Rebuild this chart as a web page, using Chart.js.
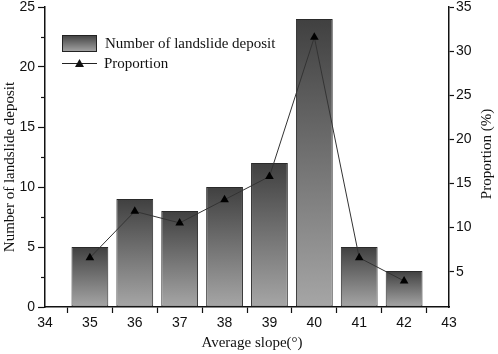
<!DOCTYPE html>
<html>
<head>
<meta charset="utf-8">
<script src="https://cdn.jsdelivr.net/npm/chart.js@4.4.0/dist/chart.umd.min.js"></script>
<style>
  body { margin: 0; background: #fff; }
  #wrap { width: 498px; height: 354px; }
</style>
</head>
<body>
<div id="wrap"><canvas id="myChart" width="498" height="354"></canvas></div>
<script>
// data
const slopes = [35, 36, 37, 38, 39, 40, 41, 42];
const deposits = [5, 9, 8, 10, 12, 24, 5, 3];
const proportion = [6.58, 11.84, 10.53, 13.16, 15.79, 31.58, 6.58, 3.95];
const xTicks = [34, 35, 36, 37, 38, 39, 40, 41, 42, 43];
const leftTicks = [0, 5, 10, 15, 20, 25];
const rightTicks = [5, 10, 15, 20, 25, 30, 35];

const serif = '"Liberation Serif", serif';
const sans = 'Liberation Sans';

function barGradient(ctx) {
  const chart = ctx.chart;
  if (!chart.chartArea || ctx.type !== 'data') return '#777';
  const y = chart.scales.y;
  const top = y.getPixelForValue(ctx.raw.y);
  const bot = y.getPixelForValue(0);
  const g = chart.ctx.createLinearGradient(0, top, 0, bot);
  g.addColorStop(0, '#404040');
  g.addColorStop(1, '#a6a6a6');
  return g;
}

// minor ticks, axis titles and legend
const extras = {
  id: 'extras',
  afterDraw(chart) {
    const c = chart.ctx;
    const area = chart.chartArea;
    const y = chart.scales.y;
    c.save();
    c.strokeStyle = '#111';
    c.lineWidth = 1.2;
    // minor ticks on left axis
    for (let v = 2.5; v < 25; v += 5) {
      const py = Math.round(y.getPixelForValue(v)) + 0.5;
      c.beginPath();
      c.moveTo(area.left - 4, py);
      c.lineTo(area.left, py);
      c.stroke();
    }
    // axis titles
    c.fillStyle = '#111';
    c.font = '15px ' + serif;
    c.textAlign = 'center';
    c.textBaseline = 'middle';
    c.fillText('Average slope(°)', 252, 343);
    c.save();
    c.translate(10, 167);
    c.rotate(-Math.PI / 2);
    c.fillText('Number of landslide deposit', 0, 0);
    c.restore();
    c.save();
    c.translate(487, 154);
    c.rotate(-Math.PI / 2);
    c.fillText('Proportion (%)', 0, 0);
    c.restore();
    // legend
    const g = c.createLinearGradient(0, 35, 0, 52);
    g.addColorStop(0, '#404040');
    g.addColorStop(1, '#a6a6a6');
    c.fillStyle = g;
    c.fillRect(62, 35, 35, 17);
    c.strokeStyle = '#222';
    c.lineWidth = 1;
    c.strokeRect(62.5, 35.5, 34, 16);
    c.fillStyle = '#111';
    c.textAlign = 'left';
    c.fillText('Number of landslide deposit', 105, 44);
    c.beginPath();
    c.moveTo(62, 63.5);
    c.lineTo(97, 63.5);
    c.stroke();
    c.beginPath();
    c.moveTo(79.5, 59);
    c.lineTo(84, 67);
    c.lineTo(75, 67);
    c.closePath();
    c.fill();
    c.fillText('Proportion', 104, 64);
    c.restore();
  }
};

const chart = new Chart(document.getElementById('myChart'), {
  data: {
    datasets: [{
      type: 'line',
      label: 'Proportion',
      data: slopes.map((s, i) => ({ x: s, y: proportion[i] })),
      yAxisID: 'y1',
      borderColor: '#333',
      borderWidth: 1,
      pointStyle: 'triangle',
      pointRadius: 5,
      pointBackgroundColor: '#000',
      pointBorderColor: '#000',
      pointBorderWidth: 0,
      tension: 0,
      order: 0
    }, {
      type: 'bar',
      label: 'Number of landslide deposit',
      data: slopes.map((s, i) => ({ x: s, y: deposits[i] })),
      yAxisID: 'y',
      backgroundColor: barGradient,
      borderColor: '#2a2a2a',
      borderWidth: 1,
      borderSkipped: false,
      barPercentage: 0.82,
      categoryPercentage: 1,
      order: 1
    }]
  },
  options: {
    responsive: false,
    animation: false,
    layout: { padding: { top: 7 } },
    plugins: {
      legend: { display: false },
      tooltip: { enabled: false }
    },
    scales: {
      x: {
        type: 'linear',
        min: 34,
        max: 43,
        offset: false,
        afterFit: s => { s.height = 47; },
        afterBuildTicks: s => { s.ticks = xTicks.map(v => ({ value: v })); },
        border: { display: true, color: '#111', width: 1.5 },
        grid: { drawOnChartArea: false, drawTicks: true, tickLength: 6, color: '#111', tickWidth: 1.2 },
        ticks: { color: '#111', font: { family: sans, size: 14 }, padding: 2, maxRotation: 0 }
      },
      y: {
        position: 'left',
        min: 0,
        max: 25,
        afterFit: s => { s.width = 45; s.paddingTop = 0; s.paddingBottom = 0; },
        afterBuildTicks: s => { s.ticks = leftTicks.map(v => ({ value: v })); },
        border: { display: true, color: '#111', width: 1.5 },
        grid: { drawOnChartArea: false, drawTicks: true, tickLength: 7, color: '#111', tickWidth: 1.2 },
        ticks: { color: '#111', font: { family: sans, size: 14 }, padding: 3 }
      },
      y1: {
        position: 'right',
        min: 1,
        max: 35,
        afterFit: s => { s.width = 49; s.paddingTop = 0; s.paddingBottom = 0; },
        afterBuildTicks: s => { s.ticks = rightTicks.map(v => ({ value: v })); },
        border: { display: true, color: '#111', width: 1.5 },
        grid: { drawOnChartArea: false, drawTicks: true, tickLength: 5, color: '#111', tickWidth: 1.2 },
        ticks: { color: '#111', font: { family: sans, size: 14 }, padding: 2 }
      }
    }
  },
  plugins: [extras]
});
</script>
</body>
</html>
